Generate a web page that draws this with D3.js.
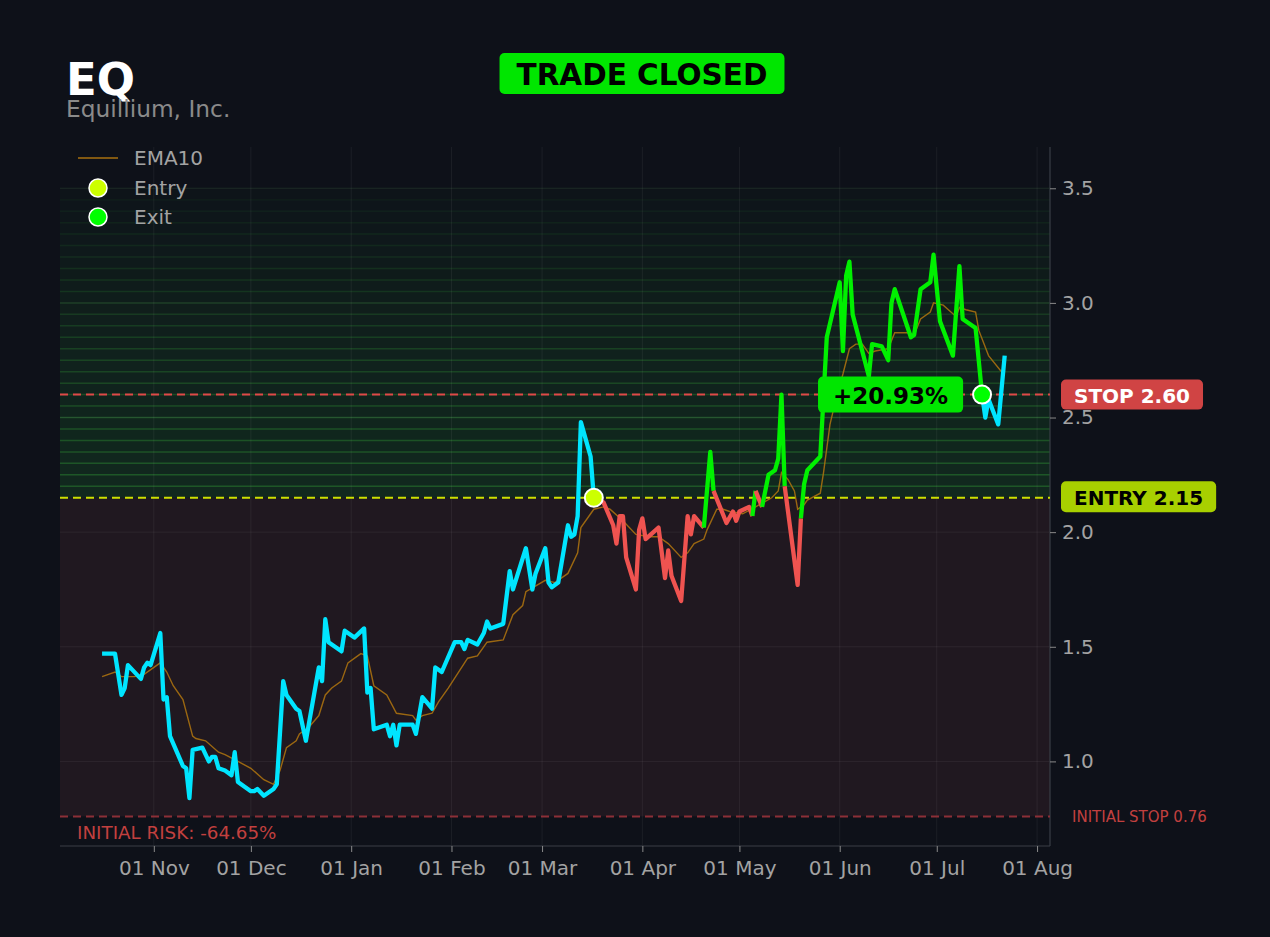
<!DOCTYPE html>
<html><head><meta charset="utf-8">
<script src="https://cdn.jsdelivr.net/npm/d3@7"></script>
<style>
html,body{margin:0;padding:0;background:#0e1119;}
svg{display:block;font-family:"DejaVu Sans",sans-serif;}
</style></head><body>
<svg id="chart" width="1270" height="937"></svg>
<script>
// ---------- DATA ----------
const ticker = "EQ";
const company = "Equillium, Inc.";
const status = "TRADE CLOSED";
const entryPrice = 2.15, stopPrice = 2.60, initialStop = 0.76;
const entryDate = "2023-03-17", exitDate = "2023-07-15";
const resultLabel = "+20.93%";
const initialRiskLabel = "INITIAL RISK: -64.65%";
const yTicks = [1.0, 1.5, 2.0, 2.5, 3.0, 3.5];
const legendLabels = ["EMA10", "Entry", "Exit"];

const dates = [
"2022-10-16","2022-10-20","2022-10-22","2022-10-23","2022-10-24","2022-10-28","2022-10-29","2022-10-30","2022-10-31",
"2022-11-03","2022-11-04","2022-11-05","2022-11-06","2022-11-10","2022-11-11","2022-11-12","2022-11-13","2022-11-16",
"2022-11-18","2022-11-19","2022-11-20","2022-11-21","2022-11-23","2022-11-25","2022-11-26","2022-11-27",
"2022-12-01","2022-12-02","2022-12-03","2022-12-05","2022-12-08","2022-12-09","2022-12-11","2022-12-12","2022-12-15",
"2022-12-16","2022-12-18","2022-12-22","2022-12-23","2022-12-24","2022-12-25","2022-12-29","2022-12-30","2022-12-31",
"2023-01-02","2023-01-05","2023-01-06","2023-01-07","2023-01-08","2023-01-12","2023-01-13","2023-01-14","2023-01-15",
"2023-01-16","2023-01-20","2023-01-21","2023-01-23","2023-01-26","2023-01-27","2023-01-29",
"2023-02-02","2023-02-04","2023-02-05","2023-02-06","2023-02-09","2023-02-11","2023-02-12","2023-02-13","2023-02-17",
"2023-02-19","2023-02-20","2023-02-24","2023-02-26","2023-02-27",
"2023-03-02","2023-03-03","2023-03-04","2023-03-06","2023-03-09","2023-03-10","2023-03-11","2023-03-12","2023-03-13",
"2023-03-16","2023-03-17","2023-03-20","2023-03-23","2023-03-24","2023-03-25","2023-03-26","2023-03-27","2023-03-30",
"2023-03-31","2023-04-01","2023-04-02","2023-04-06","2023-04-08","2023-04-09","2023-04-10","2023-04-13","2023-04-15",
"2023-04-16","2023-04-17","2023-04-20","2023-04-22","2023-04-23","2023-04-27","2023-04-29","2023-04-30",
"2023-05-01","2023-05-04","2023-05-05","2023-05-06","2023-05-08","2023-05-10","2023-05-12","2023-05-13","2023-05-14",
"2023-05-15","2023-05-19","2023-05-20","2023-05-21","2023-05-22","2023-05-26","2023-05-28",
"2023-06-01","2023-06-02","2023-06-03","2023-06-04","2023-06-05","2023-06-10","2023-06-11","2023-06-14","2023-06-16",
"2023-06-17","2023-06-18","2023-06-23","2023-06-24","2023-06-26","2023-06-29","2023-06-30",
"2023-07-02","2023-07-06","2023-07-08","2023-07-09","2023-07-10","2023-07-13","2023-07-15","2023-07-16","2023-07-17",
"2023-07-20","2023-07-22"
];
const close = [
1.47,1.47,1.29,1.32,1.42,1.36,1.41,1.43,1.42,
1.56,1.27,1.28,1.11,0.98,0.97,0.84,1.05,1.06,
1.00,1.02,1.02,0.97,0.96,0.94,1.04,0.91,
0.87,0.87,0.88,0.85,0.88,0.90,1.35,1.29,1.23,
1.22,1.09,1.41,1.35,1.62,1.52,1.48,1.57,1.56,
1.54,1.58,1.30,1.32,1.14,1.16,1.11,1.16,1.07,
1.16,1.16,1.12,1.28,1.23,1.41,1.39,
1.52,1.52,1.49,1.53,1.51,1.56,1.61,1.58,1.60,
1.83,1.75,1.93,1.75,1.82,
1.93,1.78,1.76,1.78,2.03,1.98,1.99,2.07,2.48,
2.33,2.15,2.13,2.03,1.95,2.07,2.07,1.89,1.75,
2.01,2.06,1.97,2.02,1.80,1.92,1.81,1.70,2.07,
1.99,2.07,2.02,2.35,2.18,2.04,2.09,2.05,
2.09,2.11,2.07,2.18,2.11,2.25,2.27,2.32,2.60,
2.20,1.77,2.06,2.21,2.27,2.33,2.85,
3.09,2.79,3.12,3.18,2.95,2.68,2.82,2.81,2.75,
3.00,3.06,2.85,2.86,3.06,3.09,3.21,
2.92,2.77,3.16,2.93,2.92,2.89,2.60,2.50,2.58,
2.47,2.77
];

const emaDates = [
"2022-10-16","2022-10-20","2022-10-22","2022-10-26","2022-10-29","2022-11-03","2022-11-05","2022-11-07","2022-11-10",
"2022-11-13","2022-11-14","2022-11-17","2022-11-21","2022-11-23","2022-11-27","2022-12-01","2022-12-05","2022-12-08",
"2022-12-10","2022-12-12","2022-12-15","2022-12-16","2022-12-19","2022-12-22","2022-12-24","2022-12-26","2022-12-29",
"2022-12-31","2023-01-04","2023-01-06","2023-01-08","2023-01-12","2023-01-15","2023-01-20","2023-01-21","2023-01-23",
"2023-01-26","2023-01-28","2023-01-31","2023-02-06","2023-02-09","2023-02-12","2023-02-17","2023-02-20","2023-02-23",
"2023-02-24","2023-03-02","2023-03-05","2023-03-09","2023-03-12","2023-03-13","2023-03-17","2023-03-20","2023-03-22",
"2023-03-26","2023-03-30","2023-04-03","2023-04-06","2023-04-09","2023-04-13","2023-04-15","2023-04-17","2023-04-20",
"2023-04-21","2023-04-24","2023-04-26","2023-04-28","2023-05-02","2023-05-06","2023-05-11","2023-05-13","2023-05-14",
"2023-05-16","2023-05-18","2023-05-19","2023-05-21","2023-05-22","2023-05-26","2023-05-27","2023-05-29","2023-05-31",
"2023-06-02","2023-06-04","2023-06-06","2023-06-08","2023-06-10","2023-06-12","2023-06-16","2023-06-18","2023-06-22",
"2023-06-24","2023-06-26","2023-06-29","2023-06-30","2023-07-03","2023-07-07","2023-07-08","2023-07-10","2023-07-13",
"2023-07-14","2023-07-17","2023-07-21","2023-07-22"
];
const emaValues = [
1.37,1.39,1.37,1.37,1.38,1.43,1.39,1.33,1.27,
1.11,1.10,1.09,1.04,1.03,1.00,0.97,0.92,0.90,
0.96,1.06,1.09,1.12,1.15,1.20,1.29,1.32,1.35,
1.43,1.47,1.46,1.33,1.29,1.21,1.20,1.18,1.20,
1.21,1.26,1.32,1.45,1.46,1.52,1.53,1.64,1.68,
1.74,1.79,1.78,1.82,1.91,2.02,2.10,2.11,2.10,
2.05,1.99,1.98,1.98,1.95,1.89,1.91,1.95,1.97,
2.01,2.10,2.10,2.09,2.08,2.11,2.15,2.18,2.26,
2.23,2.18,2.10,2.12,2.14,2.17,2.26,2.47,2.59,
2.69,2.80,2.82,2.82,2.78,2.79,2.80,2.87,2.87,
2.86,2.93,2.96,3.00,2.99,2.94,2.98,2.97,2.96,
2.88,2.77,2.70,2.69
];

// ---------- CHART ----------
const W = 1270, H = 937;
const L = 60, R = 1050, T = 147, B = 846;
const parse = d3.utcParse("%Y-%m-%d");
const svg = d3.select("#chart");

const x = d3.scaleUtc().domain([new Date(Date.UTC(2022,9,3)), new Date(Date.UTC(2023,7,5))]).range([L, R]);
const y = d3.scaleLinear().domain([0.631, 3.68]).range([B, T]);

const C = {
  bg: "#0e1119", cyan: "#00e5ff", red: "#ef5350", green: "#00f000",
  ema: "#a8700f", entry: "#ccff00", exitc: "#00ff00", text: "#a3a3a3"
};

svg.append("rect").attr("width", W).attr("height", H).attr("fill", C.bg);

// red risk zone
svg.append("rect").attr("x", L).attr("width", R - L)
  .attr("y", y(entryPrice)).attr("height", y(initialStop) - y(entryPrice))
  .attr("fill", "#201820");

// green profit gradient bands
const bandStep = 0.05, bandTop = 3.5;
const nb = Math.round((bandTop - entryPrice) / bandStep);
for (let k = 0; k < nb; k++) {
  const lo = entryPrice + k * bandStep, hi = lo + bandStep;
  const t = k / nb;
  svg.append("rect").attr("x", L).attr("width", R - L)
    .attr("y", y(hi)).attr("height", y(lo) - y(hi))
    .attr("fill", "#30ff50").attr("fill-opacity", 0.085 * (1 - Math.pow(t, 1.4)) + 0.012);
  svg.append("line").attr("x1", L).attr("x2", R).attr("y1", y(hi)).attr("y2", y(hi))
    .attr("stroke", "#3cb43c").attr("stroke-width", 1.5)
    .attr("stroke-opacity", 0.3 * (1 - Math.pow(t, 1.2)) + 0.04);
}

// grid
const monthTicks = x.ticks(d3.utcMonth.every(1));
const grid = svg.append("g").attr("stroke", "#ffffff").attr("stroke-opacity", 0.06).attr("stroke-width", 1);
monthTicks.forEach(m => grid.append("line").attr("x1", x(m)).attr("x2", x(m)).attr("y1", T).attr("y2", B));
yTicks.forEach(v => grid.append("line").attr("x1", L).attr("x2", R).attr("y1", y(v)).attr("y2", y(v)));

// spines
svg.append("line").attr("x1", R).attr("x2", R).attr("y1", T).attr("y2", B).attr("stroke", "#3a3e46").attr("stroke-width", 1.2);
svg.append("line").attr("x1", L).attr("x2", R).attr("y1", B).attr("y2", B).attr("stroke", "#3a3e46").attr("stroke-width", 1.2);

// axes
const yAxis = svg.append("g").attr("transform", `translate(${R},0)`)
  .call(d3.axisRight(y).tickValues(yTicks).tickFormat(d3.format(".1f")).tickSize(6).tickPadding(6));
const xAxis = svg.append("g").attr("transform", `translate(0,${B})`)
  .call(d3.axisBottom(x).tickValues(monthTicks).tickFormat(d3.utcFormat("%d %b")).tickSize(6).tickPadding(8.5));
[yAxis, xAxis].forEach(a => {
  a.select(".domain").remove();
  a.selectAll(".tick line").attr("stroke", "#8a8a8a");
  a.selectAll(".tick text").attr("fill", C.text).style("font-size", "20px").style("font-family", "DejaVu Sans");
});

// horizontal level lines
function hline(v, color) {
  svg.append("line").attr("x1", L).attr("x2", R).attr("y1", y(v)).attr("y2", y(v))
    .attr("stroke", color).attr("stroke-width", 2).attr("stroke-dasharray", "8,5");
}
hline(initialStop, "#8c2f37");
hline(entryPrice, "#cde000");
hline(stopPrice, "#e04848");

// EMA
const emaPts = emaDates.map((d, i) => [parse(d), emaValues[i]]);
svg.append("path").datum(emaPts)
  .attr("d", d3.line().x(d => x(d[0])).y(d => y(d[1])))
  .attr("fill", "none").attr("stroke", C.ema).attr("stroke-width", 1.4).attr("stroke-opacity", 0.9);

// price segments
const pts = dates.map((d, i) => [parse(d), close[i]]);
const entryIdx = dates.indexOf(entryDate), exitIdx = dates.indexOf(exitDate);
function segColor(i) {
  if (i + 1 <= entryIdx || i >= exitIdx) return C.cyan;
  return close[i + 1] >= entryPrice ? C.green : C.red;
}
const runs = [];
for (let i = 0; i < pts.length - 1; i++) {
  const c = segColor(i);
  if (!runs.length || runs[runs.length - 1].c !== c) runs.push({ c, p: [pts[i]] });
  runs[runs.length - 1].p.push(pts[i + 1]);
}
const line = d3.line().x(d => x(d[0])).y(d => y(d[1]));
runs.forEach(r => svg.append("path").datum(r.p).attr("d", line)
  .attr("fill", "none").attr("stroke", r.c).attr("stroke-width", 4.3)
  .attr("stroke-linejoin", "round").attr("stroke-linecap", "butt"));

// markers
const ex = x(parse(entryDate)), ey = y(entryPrice);
const xx = x(parse(exitDate)), xy = y(stopPrice);
svg.append("circle").attr("cx", ex).attr("cy", ey).attr("r", 9).attr("fill", C.entry).attr("stroke", "#fff").attr("stroke-width", 2);
svg.append("circle").attr("cx", xx).attr("cy", xy).attr("r", 9).attr("fill", C.exitc).attr("stroke", "#fff").attr("stroke-width", 2);

// boxed labels
function boxLabel(cx, cy, text, size, fill, color, padX, h, anchorLeft) {
  const g = svg.append("g");
  const rect = g.append("rect");
  const t = g.append("text").text(text).attr("font-weight", "bold").style("font-size", size + "px")
    .attr("fill", color).attr("dominant-baseline", "central");
  const w = t.node().getComputedTextLength() + 2 * padX;
  const x0 = anchorLeft ? cx : cx - w / 2;
  rect.attr("x", x0).attr("y", cy - h / 2).attr("width", w).attr("height", h).attr("rx", 5).attr("fill", fill);
  t.attr("x", x0 + w / 2).attr("y", cy + 1).attr("text-anchor", "middle");
  return w;
}
boxLabel(xx - 19 - 72.5, xy, resultLabel, 23, "#00e600", "#000", 15, 36, false);

// right labels
boxLabel(1061, y(stopPrice), "STOP " + stopPrice.toFixed(2), 20, "#d04444", "#fff", 13, 30, true);
boxLabel(1061, y(entryPrice) - 1, "ENTRY " + entryPrice.toFixed(2), 20, "#a8d000", "#000", 13, 31, true);
svg.append("text").attr("x", 1072).attr("y", y(initialStop) + 5.5).text("INITIAL STOP " + initialStop.toFixed(2))
  .attr("fill", "#c2403f").style("font-size", "15px");
svg.append("text").attr("x", 77).attr("y", 839).text(initialRiskLabel)
  .attr("fill", "#c2403f").style("font-size", "18.3px");

// title
svg.append("text").attr("x", 66).attr("y", 95).text(ticker).attr("fill", "#fff")
  .attr("font-weight", "bold").style("font-size", "45px");
svg.append("text").attr("x", 66).attr("y", 116.5).text(company).attr("fill", "#8a8a8a").style("font-size", "23.3px");
boxLabel(642, 73.5, status, 29.5, "#00e600", "#000", 17, 41, false);

// legend
const lg = svg.append("g");
lg.append("line").attr("x1", 78).attr("x2", 118).attr("y1", 158).attr("y2", 158).attr("stroke", C.ema).attr("stroke-width", 1.6);
lg.append("circle").attr("cx", 98).attr("cy", 188).attr("r", 9).attr("fill", C.entry).attr("stroke", "#fff").attr("stroke-width", 1.5);
lg.append("circle").attr("cx", 98).attr("cy", 217).attr("r", 9).attr("fill", C.exitc).attr("stroke", "#fff").attr("stroke-width", 1.5);
legendLabels.forEach((s, i) => lg.append("text").attr("x", 134).attr("y", 158 + i * 29.5)
  .attr("dominant-baseline", "central").text(s).attr("fill", C.text).style("font-size", "20px"));
</script>
</body></html>
